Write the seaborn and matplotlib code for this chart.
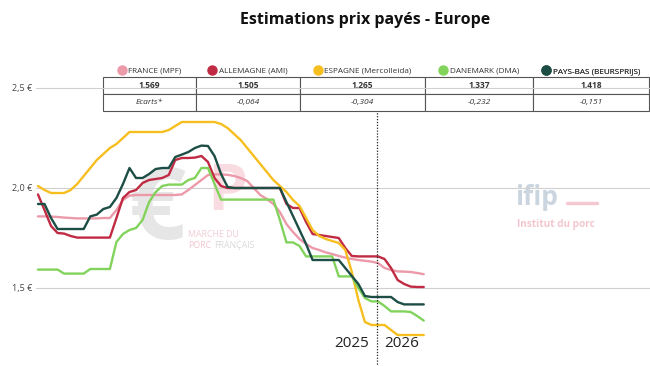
import numpy as np
import pandas as pd
import matplotlib
matplotlib.use("Agg")
import matplotlib.pyplot as plt
import seaborn as sns
from matplotlib.lines import Line2D

#---------------------------------------------------------------------------
# DONNEES (prix hebdo en EUR/kg)
# semaine 0 = debut 2025, 52 = premiere semaine 2026
#---------------------------------------------------------------------------
semaines = list(range(60))

france = [1.858, 1.858, 1.857, 1.855, 1.852, 1.850, 1.848, 1.848, 1.848, 1.848,
          1.850, 1.850, 1.890, 1.940, 1.962, 1.965, 1.965, 1.965, 1.965, 1.965,
          1.965, 1.965, 1.968, 1.990, 2.015, 2.040, 2.065, 2.068, 2.068, 2.066,
          2.060, 2.050, 2.035, 2.000, 1.965, 1.945, 1.920, 1.880, 1.820, 1.780,
          1.745, 1.720, 1.700, 1.690, 1.678, 1.670, 1.660, 1.652, 1.645, 1.640,
          1.636, 1.632, 1.625, 1.600, 1.590, 1.583, 1.582, 1.580, 1.575, 1.569]

allemagne = [1.968, 1.890, 1.810, 1.775, 1.772, 1.760, 1.752, 1.752, 1.752, 1.752,
             1.752, 1.752, 1.850, 1.950, 1.980, 1.990, 2.025, 2.040, 2.045, 2.050,
             2.065, 2.140, 2.150, 2.150, 2.152, 2.160, 2.130, 2.050, 2.010, 2.000,
             2.000, 2.000, 2.000, 2.000, 2.000, 2.000, 2.000, 2.000, 1.920, 1.900,
             1.900, 1.830, 1.770, 1.765, 1.760, 1.755, 1.750, 1.700, 1.660, 1.658,
             1.658, 1.658, 1.658, 1.645, 1.600, 1.540, 1.520, 1.507, 1.505, 1.505]

espagne = [2.010, 1.990, 1.975, 1.975, 1.975, 1.990, 2.020, 2.060, 2.100, 2.140,
           2.170, 2.200, 2.220, 2.250, 2.280, 2.280, 2.280, 2.280, 2.280, 2.280,
           2.290, 2.310, 2.330, 2.330, 2.330, 2.330, 2.330, 2.330, 2.320, 2.300,
           2.270, 2.240, 2.200, 2.160, 2.120, 2.080, 2.040, 2.010, 1.980, 1.940,
           1.910, 1.850, 1.790, 1.760, 1.745, 1.735, 1.725, 1.690, 1.580, 1.440,
           1.330, 1.315, 1.315, 1.315, 1.290, 1.265, 1.265, 1.265, 1.265, 1.265]

danemark = [1.592, 1.592, 1.592, 1.592, 1.572, 1.572, 1.572, 1.572, 1.595, 1.595,
            1.595, 1.595, 1.730, 1.770, 1.790, 1.800, 1.840, 1.930, 1.980, 2.010,
            2.017, 2.017, 2.017, 2.040, 2.050, 2.100, 2.100, 2.020, 1.942, 1.942,
            1.942, 1.942, 1.942, 1.942, 1.942, 1.942, 1.942, 1.840, 1.728, 1.728,
            1.710, 1.658, 1.658, 1.658, 1.658, 1.658, 1.558, 1.558, 1.558, 1.500,
            1.450, 1.433, 1.433, 1.410, 1.383, 1.383, 1.383, 1.380, 1.360, 1.337]

pays_bas = [1.920, 1.920, 1.850, 1.795, 1.795, 1.795, 1.795, 1.795, 1.858, 1.867,
            1.895, 1.905, 1.950, 2.020, 2.100, 2.050, 2.050, 2.070, 2.095, 2.100,
            2.100, 2.155, 2.167, 2.180, 2.200, 2.212, 2.210, 2.160, 2.070, 2.005,
            2.000, 2.000, 2.000, 2.000, 2.000, 2.000, 2.000, 2.000, 1.930, 1.860,
            1.790, 1.720, 1.640, 1.640, 1.640, 1.640, 1.640, 1.600, 1.560, 1.520,
            1.460, 1.455, 1.455, 1.455, 1.455, 1.430, 1.418, 1.418, 1.418, 1.418]

pays = ["FRANCE (MPF)", "ALLEMAGNE (AMI)", "ESPAGNE (Mercolleida)",
        "DANEMARK (DMA)", "PAYS-BAS (BEURSPRIJS)"]
couleurs = ["#EC9AAA", "#C02A42", "#F6BE1E", "#82D35C", "#1D4E45"]
derniers_prix = ["1,569", "1,505", "1,265", "1,337", "1,418"]
ecarts = ["Ecarts*", "-0,064", "-0,304", "-0,232", "-0,151"]
annees = ["2025", "2026"]
yticks = [1.5, 2.0, 2.5]
ytick_labels = ["1,5 €", "2,0 €", "2,5 €"]


def main():
    sns.set_theme(style="white")
    plt.rcParams["font.family"] = ["Open Sans", "DejaVu Sans"]

    df = pd.DataFrame({
        "semaine": semaines * 5,
        "prix": france + allemagne + espagne + danemark + pays_bas,
        "pays": sum([[p] * len(semaines) for p in pays], []),
    })

    fig = plt.figure(figsize=(6.5, 3.66), dpi=100)
    # axes: x de 36px a 650px, y de 78px a 338px (depuis le haut)
    ax = fig.add_axes([36 / 650, 28 / 366, 614 / 650, 260 / 366])
    ax.set_zorder(1)
    ax.patch.set_alpha(0)

    #---------------------------------------------------------------------------
    # FILIGRANES (MPF + ifip), derriere les courbes
    #---------------------------------------------------------------------------
    fig.text(186 / 650, 1 - 212 / 366, "€", fontsize=72, color="#e6e6e6",
             ha="right", va="center", fontweight="bold", zorder=-1)
    fig.text(227 / 650, 1 - 194 / 366, "P", fontsize=46, color="#f8dce2",
             ha="center", va="center", fontweight="bold", zorder=-1)
    fig.text(188 / 650, 1 - 234 / 366, "MARCHE DU", fontsize=6.3,
             color="#f0cdd4", ha="left", va="center", zorder=-1)
    t_porc = fig.text(188 / 650, 1 - 245 / 366, "PORC", fontsize=6.3,
                      color="#f2c5ce", ha="left", va="center", zorder=-1)
    fig.canvas.draw()
    bb = t_porc.get_window_extent()
    fig.text((bb.x1 + 3) / fig.bbox.width, 1 - 245 / 366, "FRANÇAIS",
             fontsize=6.3, color="#d9d9d9", ha="left", va="center", zorder=-1)
    fig.text(515 / 650, 1 - 197 / 366, "ifip", fontsize=19, color="#cbd5df",
             ha="left", va="center", fontweight="bold", zorder=-1)
    fig.add_artist(Line2D([567 / 650, 597 / 650], [1 - 203 / 366, 1 - 203 / 366],
                          color="#f4c8d1", linewidth=2.5, zorder=-1))
    fig.text(517 / 650, 1 - 225 / 366, "Institut du porc", fontsize=7.2,
             color="#f3c6cf", ha="left", va="center", fontweight="bold", zorder=-1)

    #---------------------------------------------------------------------------
    # COURBES
    #---------------------------------------------------------------------------
    sns.lineplot(data=df, x="semaine", y="prix", hue="pays", hue_order=pays,
                 palette=dict(zip(pays, couleurs)), linewidth=1.7,
                 legend=False, ax=ax)

    ax.set_xlim(-0.3, 93.6)
    ax.set_ylim(1.25, 2.55)
    ax.set_yticks(yticks)
    ax.set_yticklabels(ytick_labels, fontsize=6.5, color="#444444")
    ax.set_xticks([])
    ax.set_xlabel("")
    ax.set_ylabel("")
    ax.tick_params(axis="y", length=0, pad=3)
    ax.grid(axis="y", color="#d0d0d0", linewidth=0.8)
    ax.set_axisbelow(True)
    sns.despine(ax=ax, left=True, bottom=True)

    # separation 2025 / 2026
    ax.axvline(51.8, ymin=-0.11, ymax=0.873, color="#222222", linewidth=0.9,
               linestyle=(0, (1, 1.3)), clip_on=False)
    ax.text(50.6, -0.02, annees[0], transform=ax.get_xaxis_transform(),
            ha="right", va="center", fontsize=11, color="#222222")
    ax.text(53.0, -0.02, annees[1], transform=ax.get_xaxis_transform(),
            ha="left", va="center", fontsize=11, color="#222222")

    #---------------------------------------------------------------------------
    # TABLEAU + LEGENDE
    #---------------------------------------------------------------------------
    larg = np.array([93, 104, 125, 108, 116], dtype=float)
    x0 = (103 - 36) / 614
    w = larg.sum() / 614
    tbl = ax.table(cellText=[derniers_prix, ecarts], colWidths=list(larg / larg.sum()),
                   cellLoc="center", bbox=[x0, (338 - 111) / 260, w, 34 / 260])
    tbl.auto_set_font_size(False)
    for (r, c), cell in tbl.get_celld().items():
        cell.set_edgecolor("#555555")
        cell.set_linewidth(0.8)
        cell.set_facecolor("white")
        t = cell.get_text()
        t.set_fontsize(6)
        t.set_color("#333333")
        if r == 0:
            t.set_fontweight("bold")
        else:
            t.set_fontstyle("italic")

    bords = np.concatenate([[0], np.cumsum(larg)]) / 614
    for k, (p, col) in enumerate(zip(pays, couleurs)):
        cx = x0 + (bords[k] + bords[k + 1]) / 2
        h = Line2D([], [], marker="o", linestyle="", markersize=6.5, color=col)
        leg = ax.legend(handles=[h], labels=[p], loc="lower center",
                        bbox_to_anchor=(cx, 1.012), frameon=False, fontsize=5.9,
                        handletextpad=0.3, borderpad=0, borderaxespad=0,
                        handlelength=1.0, labelcolor="#333333")
        ax.add_artist(leg)

    fig.text(365 / 650, 1 - 20 / 366, "Estimations prix payés - Europe",
             ha="center", va="center", fontsize=11.5, fontweight="bold",
             color="#111111")

    fig.savefig("out.png", dpi=100)


if __name__ == "__main__":
    main()
